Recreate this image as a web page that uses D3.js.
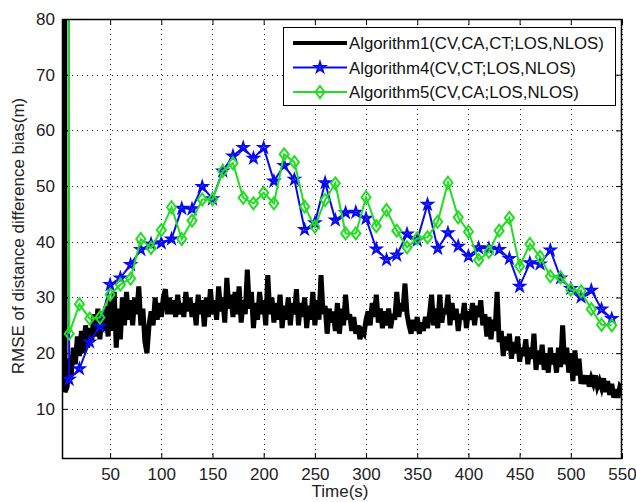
<!DOCTYPE html>
<html>
<head>
<meta charset="utf-8">
<script src="https://cdn.jsdelivr.net/npm/d3@7"></script>
<style>
  body { margin: 0; background: #fff; }
  svg { display: block; }
  text { font-family: "Liberation Sans", Arial, Helvetica, sans-serif; }
</style>
</head>
<body>
<svg id="chart" width="636" height="502"></svg>
<script>
// Algorithm1: sampled every 2 s starting at t = 4
const alg1Start = 4, alg1Step = 2;
const alg1Values = [
  400,
  13, 14, 19, 16, 21, 18, 23, 19.5, 24, 20,
  25, 21, 24.5, 22, 27, 23, 28, 22.5, 27.5, 24,
  28.5, 23, 29.5, 24, 31, 21, 28, 22.5, 30, 25,
  31, 26, 29.5, 25, 30, 27, 32, 25, 28, 22,
  20, 25, 27.5, 25, 30, 26, 29, 26.5, 30, 31.5,
  27, 30, 27, 29.5, 26.5, 30.5, 27, 29, 26.5, 31,
  27.5, 30, 26.5, 29, 25, 30.5, 27, 29.5, 24.8, 30,
  26.5, 31.5, 27, 29.5, 26, 32, 27.5, 30, 25.5, 33.5,
  28, 30.5, 26.5, 31, 27, 32, 25.5, 29.5, 27, 35,
  28, 31, 24.5, 29, 26, 31, 27, 29.5, 25, 34,
  27, 30, 25.5, 29, 26, 30.5, 24.5, 28.5, 26, 30,
  25, 29, 27, 31.5, 25, 29, 26.5, 30, 24.5, 28.5,
  26, 31, 25, 29.5, 26, 34, 27, 28.5, 23.5, 28,
  25.5, 27.5, 24, 29, 23.5, 28, 25, 30.5, 26, 27,
  24, 26.5, 23.5, 25, 22.5, 24, 23.5, 26, 27.5, 25,
  29, 26.5, 30.5, 25.5, 28, 24.5, 27.5, 25, 28, 24.5,
  27, 26, 31, 26.5, 29, 27.5, 32.5, 27, 25, 23.5,
  26, 24, 26.5, 23.5, 25.5, 24, 26.5, 24.5, 27, 30.5,
  25, 28, 24.5, 30.5, 25.5, 28, 27, 30.5, 25, 29,
  26, 28, 24, 27, 26, 29, 24.5, 27.5, 26, 29,
  25, 28.5, 26.5, 29.5, 25, 27, 23, 26.5, 22.5, 26,
  24, 31, 22, 24, 19.5, 23, 20.5, 23.5, 19, 22,
  20, 23, 18.5, 21, 19.5, 22.5, 18, 21, 19, 23.5,
  17, 20.5, 18, 21.5, 17, 20, 16.5, 21, 18, 20,
  16.5, 21, 17.5, 25, 18, 21, 16.5, 20, 15, 20.5,
  16, 19, 14.5, 16, 14.5, 16, 14, 15.5, 14.5, 16,
  14, 15, 13.8, 15.5, 13, 15, 12.5, 14.5, 12, 13.5,
  12, 14, 13.5
];

// Algorithm4 / Algorithm5: one point at t = 1, then every 10 s
const markerTimes = [1, 10, 20, 30, 40, 50, 60, 70, 80, 90, 100, 110, 120, 130, 140, 150,
  160, 170, 180, 190, 200, 210, 220, 230, 240, 250, 260, 270, 280, 290, 300, 310, 320,
  330, 340, 350, 360, 370, 380, 390, 400, 410, 420, 430, 440, 450, 460, 470, 480, 490,
  500, 510, 520, 530, 540];
const alg4Values = [2000, 15.3, 17.2, 22, 24.8, 32.3, 33.5, 35.9, 38.6, 39.6, 39.8, 40.5,
  46, 45.9, 49.9, 47.7, 52.7, 55.4, 56.9, 55, 56.9, 50.9, 53.7, 51.2, 42.2, 43.4, 50.6,
  43.9, 45.2, 45.3, 44.2, 38.7, 36.8, 37.6, 41.4, 40.3, 46.7, 38.8, 41.6, 39.2, 37.4,
  38.9, 38.8, 38.6, 37, 32, 36.2, 36, 38.5, 33.5, 31.6, 30.1, 31.3, 27.9, 26.2];
const alg5Values = [2000, 23.5, 28.8, 26.2, 26.4, 30.5, 32.3, 33.4, 40.5, 38.9, 42.1, 46.2,
  40.5, 43.8, 47.6, 47.6, 52.7, 54.1, 47.9, 46.9, 48.8, 46.9, 55.7, 54.3, 46.3, 42.7,
  47.5, 50.5, 41.5, 41.5, 48, 42.8, 45.7, 42, 39, 40.6, 40.8, 43.6, 50.6, 44.4, 41.8,
  36.7, 38.2, 42, 44.3, 35.6, 39.6, 37.3, 33.8, 33.6, 31.4, 31.1, 27.9, 25.1, 25];

const seriesNames = [
  "Algorithm1(CV,CA,CT;LOS,NLOS)",
  "Algorithm4(CV,CT;LOS,NLOS)",
  "Algorithm5(CV,CA;LOS,NLOS)"
];
const xTickValues = [50, 100, 150, 200, 250, 300, 350, 400, 450, 500, 550];
const yTickValues = [10, 20, 30, 40, 50, 60, 70, 80];
const xTitle = "Time(s)";
const yTitle = "RMSE of distance difference bias(m)";

const plot = { left: 62, right: 622, top: 19, bottom: 459 };
const colors = { a1: "#000000", a4: "#0a0af0", a5: "#22dd22" };

const svg = d3.select("#chart");
const x = d3.scaleLinear().domain([3, 550]).range([plot.left, plot.right]);
const y = d3.scaleLinear().domain([1, 80]).range([plot.bottom, plot.top]);

svg.append("defs").append("clipPath").attr("id", "plotClip")
  .append("rect")
  .attr("x", plot.left).attr("y", plot.top)
  .attr("width", plot.right - plot.left).attr("height", plot.bottom - plot.top);

// dotted grid
const grid = svg.append("g").attr("stroke", "#000").attr("stroke-width", 1)
  .attr("stroke-dasharray", "1,4").attr("opacity", 0.85);
grid.selectAll("line.gx").data(xTickValues).join("line")
  .attr("x1", d => Math.round(x(d)) + 0.5).attr("x2", d => Math.round(x(d)) + 0.5)
  .attr("y1", plot.top).attr("y2", plot.bottom);
grid.selectAll("line.gy").data(yTickValues).join("line")
  .attr("y1", d => Math.round(y(d)) + 0.5).attr("y2", d => Math.round(y(d)) + 0.5)
  .attr("x1", plot.left).attr("x2", plot.right);

// series
const a1 = alg1Values.map((v, i) => [alg1Start + i * alg1Step, v]);
const a4 = alg4Values.map((v, i) => [markerTimes[i], v]);
const a5 = alg5Values.map((v, i) => [markerTimes[i], v]);
const line = d3.line().x(d => x(d[0])).y(d => y(d[1]));

const series = svg.append("g").attr("clip-path", "url(#plotClip)");
series.append("path").datum(a1)
  .attr("fill", "none").attr("stroke", colors.a1).attr("stroke-width", 5)
  .attr("stroke-linejoin", "miter").attr("d", line);

const starPath = d3.symbol().type(d3.symbolStar).size(30)();
const diamondPath = "M0,-6L4.5,0L0,6L-4.5,0Z";

function drawMarked(data, color, shape) {
  series.append("path").datum(data)
    .attr("fill", "none").attr("stroke", color).attr("stroke-width", 2).attr("d", line);
  series.append("g").selectAll("path").data(data).join("path")
    .attr("transform", d => `translate(${x(d[0])},${y(d[1])})`)
    .attr("d", shape).attr("fill", "none").attr("stroke", color).attr("stroke-width", 2);
}
drawMarked(a4, colors.a4, starPath);
drawMarked(a5, colors.a5, diamondPath);

// axes box with inward ticks on all sides
const frame = svg.append("g");
frame.append("rect")
  .attr("x", plot.left + 0.5).attr("y", plot.top + 0.5)
  .attr("width", plot.right - plot.left - 1).attr("height", plot.bottom - plot.top - 1)
  .attr("fill", "none").attr("stroke", "#000").attr("stroke-width", 1.5);

const axB = d3.axisBottom(x).tickValues(xTickValues).tickSizeInner(-6).tickSizeOuter(0).tickPadding(9);
const axT = d3.axisTop(x).tickValues(xTickValues).tickSizeInner(-6).tickSizeOuter(0).tickFormat("");
const axL = d3.axisLeft(y).tickValues(yTickValues).tickSizeInner(-6).tickSizeOuter(0).tickPadding(7);
const axR = d3.axisRight(y).tickValues(yTickValues).tickSizeInner(-6).tickSizeOuter(0).tickFormat("");

function styleAxis(g) {
  g.select(".domain").remove();
  g.selectAll("line").attr("stroke", "#000");
  g.selectAll("text").attr("font-size", 17).attr("fill", "#222")
    .style("font-family", "'Liberation Sans', Arial, sans-serif");
}
svg.append("g").attr("transform", `translate(0,${plot.bottom})`).call(axB).call(styleAxis);
svg.append("g").attr("transform", `translate(0,${plot.top})`).call(axT).call(styleAxis);
svg.append("g").attr("transform", `translate(${plot.left},0)`).call(axL).call(styleAxis);
svg.append("g").attr("transform", `translate(${plot.right},0)`).call(axR).call(styleAxis);

// axis titles
svg.append("text").attr("x", (plot.left + plot.right) / 2 - 2).attr("y", 497)
  .attr("text-anchor", "middle").attr("font-size", 17).attr("fill", "#222").text(xTitle);
svg.append("text").attr("transform", `translate(24,${(plot.top + plot.bottom) / 2 - 3}) rotate(-90)`)
  .attr("text-anchor", "middle").attr("font-size", 17).attr("fill", "#222").text(yTitle);

// legend
const legend = svg.append("g");
legend.append("rect").attr("x", 283.5).attr("y", 27.5).attr("width", 332).attr("height", 78)
  .attr("fill", "#fff").attr("stroke", "#000").attr("stroke-width", 1);
const legendRows = [
  { name: seriesNames[0], color: colors.a1, width: 4, shape: null },
  { name: seriesNames[1], color: colors.a4, width: 2, shape: starPath },
  { name: seriesNames[2], color: colors.a5, width: 2, shape: diamondPath }
];
legendRows.forEach((r, i) => {
  const ly = 43 + i * 24.5;
  legend.append("line").attr("x1", 293).attr("x2", 347).attr("y1", ly).attr("y2", ly)
    .attr("stroke", r.color).attr("stroke-width", r.width);
  if (r.shape) {
    legend.append("path").attr("transform", `translate(320,${ly})`).attr("d", r.shape)
      .attr("fill", "none").attr("stroke", r.color).attr("stroke-width", 2);
  }
  legend.append("text").attr("x", 349).attr("y", ly).attr("dy", "0.36em")
    .attr("font-size", 16.8).attr("fill", "#111").text(r.name);
});
</script>
</body>
</html>
